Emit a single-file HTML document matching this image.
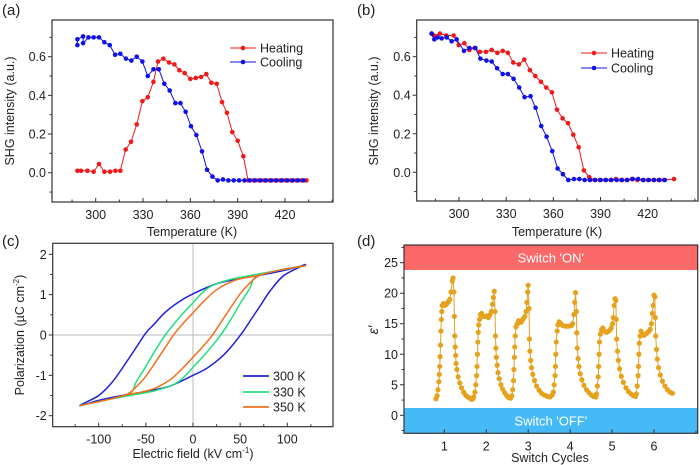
<!DOCTYPE html>
<html><head><meta charset="utf-8">
<style>
html,body{margin:0;padding:0;background:#fff;}
svg{display:block;font-family:"Liberation Sans",Arial,sans-serif;}
</style></head>
<body>
<svg id="fig" width="700" height="465" viewBox="0 0 700 465"></svg>
<script>
// ---------- Panel (a) data ----------
const aHeatT=[288.4,290.7,294.7,298.7,302.1,305.5,309.1,312.5,315.6,319,322.4,326,329.6,333,336.6,339.5,342.9,346.5,349.9,353,356.4,360,363.4,366.8,370.1,373.3,376.7,380.1,383.2,386.6,390,393.6,396.6,400,403.4,406.8,410.2,413.6,417,420.4,423.8,427.2,430.6,433.6];
const aHeatV=[0.01,0.01,0.01,0.005,0.045,0.005,0.005,0.01,0.01,0.12,0.16,0.25,0.37,0.39,0.47,0.575,0.59,0.57,0.56,0.53,0.515,0.485,0.49,0.495,0.51,0.465,0.46,0.365,0.31,0.21,0.165,0.085,-0.04,-0.04,-0.04,-0.04,-0.04,-0.04,-0.04,-0.04,-0.04,-0.04,-0.04,-0.04];
const aCoolT=[288.4,288.4,292,292,295.4,298.7,302.1,305.5,308.9,312.3,315.6,319.2,322.6,326,329.6,333,336.6,340,343.5,346.9,350.5,353.7,357,360.4,363.8,367.4,370.6,374,377.3,380.7,384.1,387.5,390.9,394.3,397.7,401.1,404.5,407.9,411.3,414.7,418.1,421.5,424.9,428.3,431.7];
const aCoolV=[0.66,0.69,0.705,0.67,0.7,0.7,0.7,0.675,0.66,0.61,0.615,0.59,0.58,0.6,0.575,0.5,0.535,0.535,0.46,0.425,0.36,0.36,0.315,0.24,0.195,0.11,0.015,-0.02,-0.04,-0.035,-0.04,-0.04,-0.04,-0.04,-0.04,-0.04,-0.04,-0.04,-0.04,-0.04,-0.04,-0.04,-0.04,-0.04,-0.04];
// ---------- Panel (b) data ----------
const bHeatT=[282.6,284.1,287.9,291.9,296.6,299.8,303.4,306.6,310,313.3,317.2,320.8,324.4,327.8,331.1,334.5,338.1,341.5,345.1,348.5,352.1,355.5,359.1,362.3,365.9,369.3,372.7,376.1,379.4,382.8,386.2,389.6,393,396.4,399.8,403.2,406.6,410,413.4,416.8,420.2,423.6,427,430.4,436.7];
const bHeatV=[0.72,0.71,0.72,0.71,0.71,0.66,0.67,0.635,0.645,0.625,0.625,0.635,0.62,0.63,0.62,0.57,0.56,0.585,0.53,0.5,0.47,0.44,0.415,0.325,0.28,0.255,0.195,0.13,0.01,-0.025,-0.04,-0.04,-0.04,-0.04,-0.035,-0.04,-0.04,-0.035,-0.04,-0.04,-0.04,-0.04,-0.04,-0.04,-0.035];
const bCoolT=[282.6,284.3,286.4,289,292.2,295.3,298.5,303.2,306.6,310.4,313.6,317.4,320.8,324.2,327.8,331.1,334.7,338.3,341.7,345.5,348.7,352.3,355.7,359.3,362.7,366.1,369.5,373.1,376.5,379.9,383.3,386.7,390.1,393.5,396.9,400.3,403.7,407.1,410.5,413.9,417.3,420.7,424.1,427.5,430.9];
const bCoolV=[0.72,0.69,0.7,0.695,0.7,0.68,0.69,0.63,0.645,0.645,0.59,0.58,0.575,0.54,0.51,0.51,0.485,0.44,0.39,0.395,0.335,0.24,0.185,0.11,0.02,-0.01,-0.04,-0.035,-0.035,-0.04,-0.04,-0.04,-0.04,-0.04,-0.04,-0.04,-0.04,-0.04,-0.035,-0.035,-0.04,-0.04,-0.04,-0.04,-0.04];
// ---------- Panel (c) data ----------
const c300E=[120,100,75,50,25,0,-15,-30,-42,-50,-60,-70,-85,-100,-120,-100,-75,-50,-25,0,15,30,42,52,62,72,82,95,110,120];
const c300P=[1.75,1.62,1.5,1.4,1.27,1.02,0.82,0.55,0.25,0.05,-0.3,-0.65,-1.15,-1.5,-1.75,-1.62,-1.5,-1.4,-1.27,-1.0,-0.82,-0.55,-0.25,0.05,0.4,0.75,1.1,1.45,1.65,1.75];
const c330E=[120,90,67,40,20,10,0,-10,-20,-30,-40,-50,-60,-67,-90,-120,-90,-67,-40,-20,-10,0,10,20,30,40,50,60,67,90,120];
const c330P=[1.72,1.6,1.5,1.38,1.22,1.05,0.8,0.55,0.28,-0.02,-0.38,-0.78,-1.15,-1.45,-1.6,-1.75,-1.6,-1.5,-1.38,-1.22,-1.05,-0.8,-0.55,-0.28,0.02,0.38,0.78,1.15,1.45,1.6,1.72];
const c350E=[120,90,70,45,25,10,0,-10,-20,-30,-40,-50,-60,-70,-90,-120,-90,-70,-45,-25,-10,0,10,20,30,40,50,60,70,90,120];
const c350P=[1.72,1.6,1.48,1.36,1.12,0.8,0.55,0.3,0.02,-0.33,-0.68,-1.02,-1.28,-1.47,-1.6,-1.75,-1.6,-1.48,-1.36,-1.12,-0.8,-0.55,-0.3,-0.02,0.33,0.68,1.02,1.28,1.47,1.6,1.72];
// ---------- Panel (d) data ----------
const dCycle1=[[0.80,2.7],[0.83,3.2],[0.85,4.2],[0.87,5.5],[0.88,6.7],[0.89,8],[0.90,9.6],[0.91,11.5],[0.92,13.8],[0.93,15.7],[0.94,17],[0.95,18],[0.98,18.3],[1.01,18],[1.04,18.1],[1.07,18.4],[1.10,18.6],[1.13,19],[1.16,20.2],[1.19,22],[1.21,22.5],[1.23,20.2],[1.24,16.2],[1.25,13],[1.26,11.2],[1.27,9.8],[1.28,8.5],[1.30,7.5],[1.33,6.3],[1.37,5.3],[1.41,4.5],[1.46,3.8],[1.51,3.3],[1.56,3.0],[1.61,2.8],[1.65,2.6],[1.68,2.7]];
const dCycle2=[[1.70,3.0],[1.73,3.8],[1.75,5],[1.77,6.5],[1.78,8],[1.79,10],[1.80,12],[1.81,13.6],[1.82,14.8],[1.84,15.7],[1.86,16.5],[1.89,16.7],[1.93,16.2],[1.97,16.2],[2.01,16.3],[2.05,16.0],[2.09,16.5],[2.12,17],[2.15,18.2],[2.17,19.3],[2.19,20.3],[2.21,17],[2.22,13],[2.23,11],[2.24,9.5],[2.26,8.2],[2.28,7],[2.31,6],[2.35,5],[2.39,4.3],[2.44,3.7],[2.49,3.2],[2.54,2.9],[2.58,2.8]];
const dCycle3=[[2.61,3.2],[2.63,4.2],[2.65,5.7],[2.66,7.5],[2.67,9.5],[2.68,11.2],[2.69,13],[2.71,14.5],[2.74,15],[2.77,15.5],[2.80,15.2],[2.84,15.3],[2.88,15.8],[2.92,16.2],[2.95,17],[2.97,18.5],[2.99,20.2],[3.00,21.3],[3.02,17.5],[3.03,12.5],[3.04,10.5],[3.06,9],[3.08,7.8],[3.11,6.7],[3.15,5.7],[3.20,4.8],[3.26,4.1],[3.32,3.6],[3.39,3.3],[3.46,3.1],[3.52,3.0],[3.57,3.3]];
const dCycle4=[[3.60,3.8],[3.62,5],[3.64,6.5],[3.65,8],[3.66,10],[3.67,12],[3.69,13.8],[3.71,14.8],[3.74,15.3],[3.78,15],[3.83,14.7],[3.88,14.6],[3.93,14.6],[3.98,14.6],[4.03,14.7],[4.06,15],[4.09,16.5],[4.11,18.5],[4.13,20.1],[4.15,17],[4.16,13.5],[4.17,11],[4.19,9.3],[4.21,8],[4.24,6.8],[4.28,5.8],[4.33,4.9],[4.39,4.2],[4.45,3.7],[4.51,3.3],[4.56,3.1],[4.61,3.0]];
const dCycle5=[[4.63,3.5],[4.65,4.8],[4.67,6.3],[4.68,8],[4.69,10],[4.70,12],[4.72,13.3],[4.75,14],[4.78,14.3],[4.82,13.8],[4.86,13.6],[4.90,13.7],[4.94,13.9],[4.98,14.3],[5.01,15],[5.03,16],[5.05,18],[5.07,19.1],[5.09,18.8],[5.10,15.7],[5.11,12.5],[5.13,10.5],[5.15,9],[5.18,7.6],[5.22,6.4],[5.27,5.4],[5.33,4.5],[5.39,3.9],[5.45,3.5],[5.51,3.2],[5.56,3.1]];
const dCycle6=[[5.58,3.5],[5.60,4.8],[5.62,6.5],[5.63,8],[5.64,10],[5.65,11.8],[5.67,13],[5.69,13.8],[5.72,13.3],[5.76,13.1],[5.80,13.3],[5.84,13.5],[5.88,13.8],[5.91,14.1],[5.94,15],[5.96,16.7],[5.98,18],[6.00,19.7],[6.02,19.4],[6.03,16],[6.04,13],[6.06,10.8],[6.08,9.2],[6.11,7.8],[6.15,6.6],[6.20,5.6],[6.26,4.8],[6.32,4.2],[6.38,3.8],[6.44,3.6]];
const dCycles=[dCycle1,dCycle2,dCycle3,dCycle4,dCycle5,dCycle6];

const tempTicks=[300,330,360,390,420];
const shgTicks=[0,0.2,0.4,0.6];
const fieldTicks=[-100,-50,0,50,100];
const polTicks=[-2,-1,0,1,2];
const cycleTicks=[1,2,3,4,5,6];
const epsTicks=[0,5,10,15,20,25];

const NS='http://www.w3.org/2000/svg';
const svg=document.getElementById('fig');
function el(tag,attrs,parent,text){
  const e=document.createElementNS(NS,tag);
  for(const k in attrs)e.setAttribute(k,attrs[k]);
  if(text!==undefined)e.textContent=text;
  (parent||svg).appendChild(e);return e;
}
function lin(d0,d1,p0,p1){return v=>p0+(v-d0)*(p1-p0)/(d1-d0);}

function frame(g,L,T,R,B){
  const f=el('rect',{x:L,y:T,width:R-L,height:B-T,fill:'none',stroke:'#333','stroke-width':1.2},g);
  
  
}
function inv(s,p){const a=s(0),b=s(1);return (p-a)/(b-a);}
function xAxis(g,sx,ticks,minorStep,L,R,B,fmt){
  const lo=Math.ceil(inv(sx,L)/minorStep-1e-9)*minorStep;
  for(let v=lo;sx(v)<R;v+=minorStep){
    const major=ticks.some(t=>Math.abs(t-v)<1e-9);
    el('line',{x1:sx(v),x2:sx(v),y1:B,y2:B-(major?4:2.5),stroke:'#333','stroke-width':1},g);
  }
  ticks.forEach(t=>{
    const tx=el('text',{x:sx(t),y:B+17,'text-anchor':'middle','font-size':12.5,fill:'#222'},g,fmt?fmt(t):String(t));
    
    
  });
}
function yAxis(g,sy,ticks,minorStep,T,B,L,fmt){
  const start=Math.ceil(inv(sy,B)/minorStep-1e-9)*minorStep;
  for(let v=start;sy(v)>T;v+=minorStep){
    const major=ticks.some(t=>Math.abs(t-v)<1e-9);
    el('line',{x1:L,x2:L-(major?4:2.5),y1:sy(v),y2:sy(v),stroke:'#333','stroke-width':1},g);
  }
  ticks.forEach(t=>{
    const tx=el('text',{x:L-6,y:sy(t)+4.5,'text-anchor':'end','font-size':12.5,fill:'#222'},g,fmt?fmt(t):String(t));
    
    
  });
}
function label(g,x,y,txt,name,rot,extra){
  const a={x:x,y:y,'text-anchor':'middle','font-size':12.5,fill:'#222'};
  if(rot)a.transform='rotate(-90 '+x+' '+y+')';
  Object.assign(a,extra||{});
  const t=el('text',a,g,txt);
  
  
  return t;
}
function series(g,sx,sy,xs,ys,color,name){
  const pts=xs.map((x,i)=>sx(x).toFixed(2)+','+sy(ys[i]).toFixed(2)).join(' ');
  const pl=el('polyline',{points:pts,fill:'none',stroke:color,'stroke-width':1},g);
  
  
  xs.forEach((x,i)=>{
    const c=el('circle',{cx:sx(x),cy:sy(ys[i]),r:2.3,fill:color},g);
    
    
  });
}
function smoothPath(pts){
  let d='M'+pts[0][0].toFixed(2)+','+pts[0][1].toFixed(2);
  for(let i=0;i<pts.length-1;i++){
    const p0=pts[Math.max(0,i-1)],p1=pts[i],p2=pts[i+1],p3=pts[Math.min(pts.length-1,i+2)];
    const c1=[p1[0]+(p2[0]-p0[0])/6,p1[1]+(p2[1]-p0[1])/6];
    const c2=[p2[0]-(p3[0]-p1[0])/6,p2[1]-(p3[1]-p1[1])/6];
    d+=' C'+c1.map(v=>v.toFixed(2)).join(',')+' '+c2.map(v=>v.toFixed(2)).join(',')+' '+p2[0].toFixed(2)+','+p2[1].toFixed(2);
  }
  return d;
}
function legendEntry(g,x,y,color,txt,dot){
  const lg=el('g',{},g);
  
  
  el('line',{x1:x,x2:x+26,y1:y,y2:y,stroke:color,'stroke-width':dot?1:1.8},lg);
  if(dot)el('circle',{cx:x+13,cy:y,r:2.3,fill:color},lg);
  el('text',{x:x+30,y:y+4.5,'font-size':12.5,fill:'#222'},lg,txt);
}
const fmt1=v=>v.toFixed(1);

// ----- panel a -----
(function(){
  const g=el('g',{});
  const L=52,R=333,T=20,B=202;
  const sx=lin(300,420,95.7,285),sy=lin(0,0.6,172.7,56.7);
  frame(g,L,T,R,B);
  xAxis(g,sx,tempTicks,15,L,R,B);
  yAxis(g,sy,shgTicks,0.1,T,B,L,fmt1);
  series(g,sx,sy,aHeatT,aHeatV,'#f01818','heating');
  series(g,sx,sy,aCoolT,aCoolV,'#1010e8','cooling');
  legendEntry(g,230,48,'#f01818','Heating',true);
  legendEntry(g,230,62,'#1010e8','Cooling',true);
  label(g,192,236,'Temperature (K)','x-axis-title');
  label(g,14,111,'SHG intensity (a.u.)','y-axis-title',true);
  label(g,2,15,'(a)','panel-label',false,{'text-anchor':'start','font-size':15});
})();
// ----- panel b -----
(function(){
  const g=el('g',{});
  const L=416.7,R=698,T=20,B=201;
  const sx=lin(300,420,459,647.7),sy=lin(0,0.6,172.3,56.7);
  frame(g,L,T,R,B);
  xAxis(g,sx,tempTicks,15,L,R,B);
  yAxis(g,sy,shgTicks,0.1,T,B,L,fmt1);
  series(g,sx,sy,bHeatT,bHeatV,'#f01818','heating');
  series(g,sx,sy,bCoolT,bCoolV,'#1010e8','cooling');
  legendEntry(g,581,53,'#f01818','Heating',true);
  legendEntry(g,581,68,'#1010e8','Cooling',true);
  label(g,557,236,'Temperature (K)','x-axis-title');
  label(g,378,111,'SHG intensity (a.u.)','y-axis-title',true);
  label(g,357,15,'(b)','panel-label',false,{'text-anchor':'start','font-size':15});
})();
// ----- panel c -----
(function(){
  const g=el('g',{});
  const L=52.7,R=333,T=243.3,B=426.7;
  const sx=lin(0,100,193,287.3),sy=lin(0,2,335,254.3);
  el('line',{x1:L,x2:R,y1:sy(0),y2:sy(0),stroke:'#bbb','stroke-width':1},g);
  el('line',{x1:sx(0),x2:sx(0),y1:T,y2:B,stroke:'#bbb','stroke-width':1},g);
  frame(g,L,T,R,B);
  xAxis(g,sx,fieldTicks,25,L,R,B);
  yAxis(g,sy,polTicks,0.5,T,B,L);
  const lines=[[c300E,c300P,'#2020d8','loop-300k'],[c330E,c330P,'#22e07a','loop-330k'],[c350E,c350P,'#f07020','loop-350k']];
  lines.forEach(s=>{
    const pts=s[0].map((x,i)=>[sx(x),sy(s[1][i])]);
    const p=el('path',{d:smoothPath(pts),fill:'none',stroke:s[2],'stroke-width':1.5,'stroke-linejoin':'round'},g);
    
    
  });
  legendEntry(g,243,376,'#2020d8','300 K');
  legendEntry(g,243,392,'#22e07a','330 K');
  legendEntry(g,243,407,'#f07020','350 K');
  label(g,193,458,'','x-axis-title').innerHTML='Electric field (kV cm<tspan dy="-5" font-size="8">-1</tspan><tspan dy="5">)</tspan>';
  label(g,24,335,'','y-axis-title',true).innerHTML='Polarization (\u00b5C cm<tspan dy="-5" font-size="8">-2</tspan><tspan dy="5">)</tspan>';
  label(g,2,246,'(c)','panel-label',false,{'text-anchor':'start','font-size':15});
})();
// ----- panel d -----
(function(){
  const g=el('g',{});
  const L=404,R=697.7,T=245,B=433.3;
  const sx=lin(1,6,444.3,654),sy=lin(0,25,415.3,262.7);
  const on=el('rect',{x:L,y:T,width:R-L,height:sy(23.8)-T,fill:'#fb6868'},g);
  
  const off=el('rect',{x:L,y:sy(1.2),width:R-L,height:B-sy(1.2),fill:'#46b9f7'},g);
  
  label(g,(L+R)/2,(T+sy(23.8))/2+5,"Switch 'ON'",'switch-on-label',false,{fill:'#fff','font-size':13});
  label(g,(L+R)/2,(B+sy(1.2))/2+5,"Switch 'OFF'",'switch-off-label',false,{fill:'#fff','font-size':13});
  frame(g,L,T,R,B);
  xAxis(g,sx,cycleTicks,1,L,R,B);
  yAxis(g,sy,epsTicks,2.5,T,B,L);
  const all=[];dCycles.forEach(c=>c.forEach(p=>all.push(p)));
  const pl=el('polyline',{points:all.map(p=>sx(p[0]).toFixed(2)+','+sy(p[1]).toFixed(2)).join(' '),fill:'none',stroke:'#e0a020','stroke-width':1},g);
  
  all.forEach(p=>{
    const c=el('circle',{cx:sx(p[0]),cy:sy(p[1]),r:2.6,fill:'#e6a21c'},g);
    
    
  });
  label(g,550,462,'Switch Cycles','x-axis-title');
  label(g,378,330,'\u03b5\u2032','y-axis-title',true,{'font-style':'italic','font-size':14});
  label(g,357,246,'(d)','panel-label',false,{'text-anchor':'start','font-size':15});
})();
</script>
</body></html>
